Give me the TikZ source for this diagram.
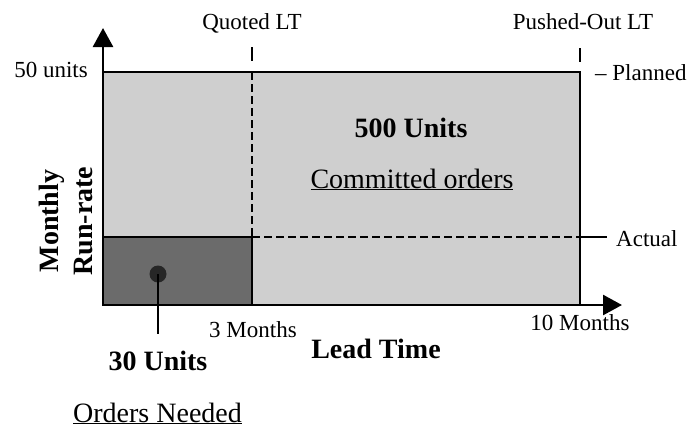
\documentclass[tikz,border=0pt]{standalone}
\usepackage{fontspec}
\setmainfont{Liberation Serif}
\usetikzlibrary{arrows.meta}
\definecolor{lightfill}{gray}{0.81}
\definecolor{darkfill}{gray}{0.42}
\begin{document}
\begin{tikzpicture}[x=1pt,y=-1pt,
  small/.style={font=\fontsize{23}{26}\selectfont, inner sep=0pt},
  big/.style={font=\fontsize{28}{31}\selectfont, inner sep=0pt},
  bigbold/.style={font=\fontsize{28}{31}\selectfont\bfseries, inner sep=0pt},
  axis/.style={line width=2.6pt, -{Triangle[length=19pt,width=20pt]}},
  border/.style={line width=2pt},
  dashline/.style={line width=2.2pt, dash pattern=on 8pt off 4pt},
  tick/.style={line width=2.2pt}]
\useasboundingbox (0,0) rectangle (695,429);

% regions
\fill[lightfill] (103,72) rectangle (580,305);
\filldraw[fill=darkfill, draw=black, border] (103,237) rectangle (252,305);
\draw[border] (103,72) -- (580,72) -- (580,305);

% lead-time markers
\coordinate (q1) at (252,72);
\coordinate (q2) at (252,237);
\coordinate (a1) at (252,237);
\coordinate (a2) at (580,237);
\coordinate (a3) at (607,237);
\draw[dashline] (q1) -- (q2);
\draw[dashline] (a1) -- (a2);
\draw[border] (a2) -- (a3);
\draw[tick] (252,47) -- (252,61);
\draw[tick] (580,48) -- (580,62);

% axes
\coordinate (o) at (103,305);
\coordinate (ytip) at (103,28);
\coordinate (xtip) at (622,305);
\draw[axis] (o) -- (ytip);
\draw[axis] (o) -- (xtip);

% marker for the orders needed
\node[circle, fill=black!85, minimum size=17pt, inner sep=0pt] (dot) at (158,274) {};
\coordinate (dotend) at (158,334);
\draw[line width=2pt] (dot.center) -- (dotend);

% labels
\node[small, anchor=base] (quoted) at (252,29) {Quoted LT};
\node[small, anchor=base] (pushed) at (583,29) {Pushed-Out LT};
\node[small, anchor=base east] (fifty) at (88,77) {50 units};
\node[small, anchor=base west] (planned) at (595,80) {– Planned};
\node[small, anchor=base west] (actual) at (616,246) {Actual};
\node[small, anchor=base] (three) at (253,337) {3 Months};
\node[small, anchor=base] (ten) at (580,330) {10 Months};
\node[bigbold, anchor=base] (lead) at (376,358) {Lead Time};
\node[bigbold, anchor=base] (thirty) at (158,370) {30 Units};
\node[big, anchor=base west] (needed) at (73,422) {\underline{Orders Needed}};
\node[bigbold, anchor=base] (five) at (411,137) {500 Units};
\node[big, anchor=base] (committed) at (412,188) {\underline{Committed orders}};
\node[bigbold, anchor=base, rotate=90] (monthly) at (58,221) {Monthly};
\node[bigbold, anchor=base, rotate=90] (runrate) at (92,221) {Run-rate};
\end{tikzpicture}
\end{document}
